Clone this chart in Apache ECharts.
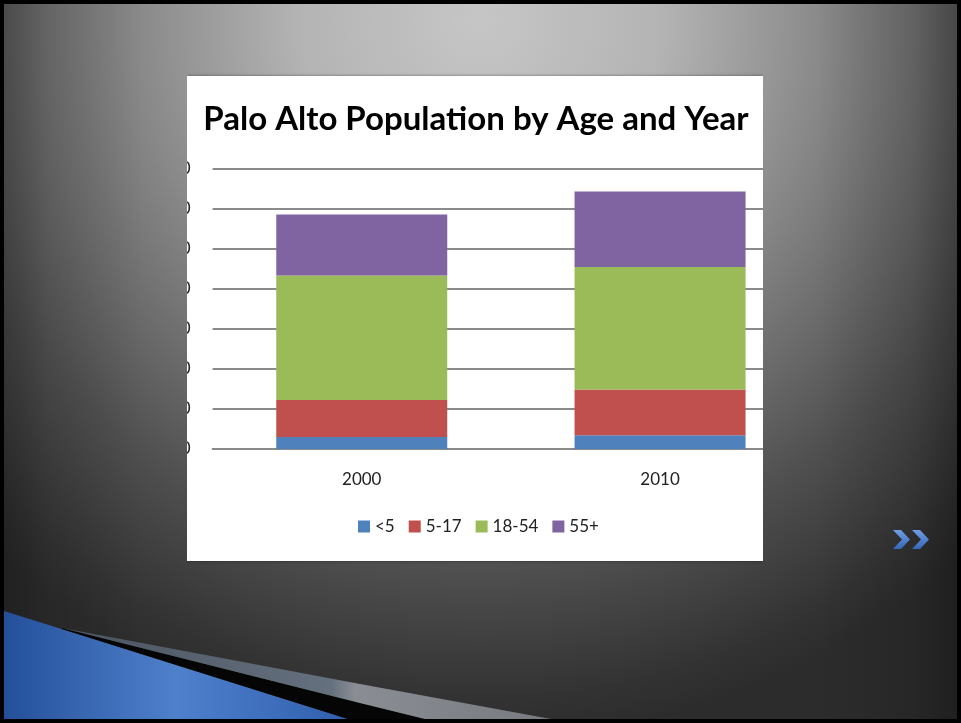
<!DOCTYPE html>
<html>
<head>
<meta charset="utf-8">
<script src="https://cdn.jsdelivr.net/npm/echarts@6/dist/echarts.min.js"></script>
<style>html,body{margin:0;padding:0;background:#333;}#c{width:961px;height:723px;}</style>
</head>
<body>
<div id="c"></div>
<script>
const categories = ['2000', '2010'];
const seriesNames = ['<5', '5-17', '18-54', '55+'];
const under5 = [3000, 3425];
const age5to17 = [9250, 11425];
const age18to54 = [31100, 30650];
const age55plus = [15250, 18850];
const yTicks = [0, 10000, 20000, 30000, 40000, 50000, 60000, 70000];

const colors = ['#4F81BD', '#C0504D', '#9BBB59', '#8064A2'];
const FONT = 'Lato, "Open Sans", sans-serif';

const radialBg = {
  type: 'radial', x: 480, y: 20, r: 720, global: true,
  colorStops: [
    { offset: 0, color: '#c6c6c6' },
    { offset: 0.25, color: '#b4b4b4' },
    { offset: 0.42, color: '#949494' },
    { offset: 0.76, color: '#505050' },
    { offset: 0.94, color: '#333333' },
    { offset: 1, color: '#2c2c2c' }
  ]
};
const sideShade = {
  type: 'linear', x: 0, y: 0, x2: 961, y2: 0, global: true,
  colorStops: [
    { offset: 0, color: 'rgba(0,0,0,0.27)' },
    { offset: 0.05, color: 'rgba(0,0,0,0.1)' },
    { offset: 0.15, color: 'rgba(0,0,0,0)' },
    { offset: 0.85, color: 'rgba(0,0,0,0)' },
    { offset: 0.95, color: 'rgba(0,0,0,0.12)' },
    { offset: 1, color: 'rgba(0,0,0,0.3)' }
  ]
};
function bgRects(x, y, w, h, z) {
  return [
    { type: 'rect', silent: true, z: z, shape: { x, y, width: w, height: h }, style: { fill: radialBg } },
    { type: 'rect', silent: true, z: z + 1, shape: { x, y, width: w, height: h }, style: { fill: sideShade } }
  ];
}
function chevron(x, y) {
  return {
    type: 'polygon', silent: true, z: 120,
    shape: { points: [[x, y], [x + 8, y], [x + 17, y + 9.5], [x + 8, y + 19], [x, y + 19], [x + 9, y + 9.5]] },
    style: { fill: { type: 'linear', x: 0, y: 0, x2: 0, y2: 1, colorStops: [{ offset: 0, color: '#6f9fe6' }, { offset: 1, color: '#3567b8' }] } }
  };
}

const graphics = [].concat(
  bgRects(0, 0, 961, 723, -100),
  [{ type: 'rect', silent: true, z: -90, shape: { x: 187, y: 76, width: 576, height: 485 },
     style: { fill: '#ffffff', shadowBlur: 3, shadowColor: 'rgba(0,0,0,0.45)' } }],
  bgRects(0, 0, 187, 723, 100),
  bgRects(763, 0, 198, 723, 100),
  [
    { type: 'polygon', silent: true, z: 110, shape: { points: [[4, 611], [348, 719], [4, 719]] },
      style: { fill: { type: 'linear', x: 0, y: 0, x2: 1, y2: 0, colorStops: [{ offset: 0, color: '#24509a' }, { offset: 0.5, color: '#4f80cc' }, { offset: 1, color: '#2f5fae' }] } } },
    { type: 'polygon', silent: true, z: 111, shape: { points: [[62, 628], [360, 703], [425, 719], [348, 719], [62, 629]] },
      style: { fill: '#050505' } },
    { type: 'polygon', silent: true, z: 111, shape: { points: [[62, 628], [360, 684], [551, 719], [425, 719], [360, 703]] },
      style: { fill: { type: 'linear', x: 0, y: 0, x2: 1, y2: 0, colorStops: [{ offset: 0, color: '#4a5360' }, { offset: 0.55, color: '#65707e' }, { offset: 0.6, color: '#8a8e94' }, { offset: 1, color: '#777b80' }] } } },
    chevron(893, 530),
    chevron(912, 530),
    { type: 'rect', silent: true, z: 130, shape: { x: 2, y: 2, width: 957, height: 719 },
      style: { fill: 'none', stroke: '#000', lineWidth: 4 } }
  ]
);

const seriesData = [under5, age5to17, age18to54, age55plus];
const chart = echarts.init(document.getElementById('c'), null, { renderer: 'canvas' });
chart.setOption({
  animation: false,
  color: colors,
  title: {
    text: 'Palo Alto Population by Age and Year',
    left: 471, top: 98, textAlign: 'center',
    textStyle: { fontFamily: FONT, fontWeight: 'bold', fontSize: 33, color: '#000' }
  },
  legend: {
    data: seriesNames,
    left: 353, top: 513,
    icon: 'rect', itemWidth: 12, itemHeight: 12, itemGap: 14,
    textStyle: { fontFamily: FONT, fontSize: 17, color: '#222' }
  },
  grid: { left: 212.6, right: 151.8, top: 169, bottom: 274, containLabel: false },
  xAxis: {
    type: 'category', data: categories,
    axisLine: { lineStyle: { color: '#8a8a8a', width: 2 } },
    axisTick: { show: false },
    axisLabel: { fontFamily: FONT, fontSize: 17, color: '#222', margin: 22 }
  },
  yAxis: {
    type: 'value', min: 0, max: 70000, interval: 10000,
    axisLine: { show: false }, axisTick: { show: false },
    splitLine: { lineStyle: { color: '#8a8a8a', width: 2 } },
    axisLabel: { fontFamily: FONT, fontSize: 17, color: '#222', margin: 22,
      formatter: v => yTicks.includes(v) ? v.toLocaleString('en-US') : '' }
  },
  series: seriesNames.map((n, i) => ({
    name: n, type: 'bar', stack: 'total', barWidth: 171,
    data: seriesData[i],
    itemStyle: { color: colors[i] }
  })),
  graphic: { elements: graphics }
});
</script>
</body>
</html>
